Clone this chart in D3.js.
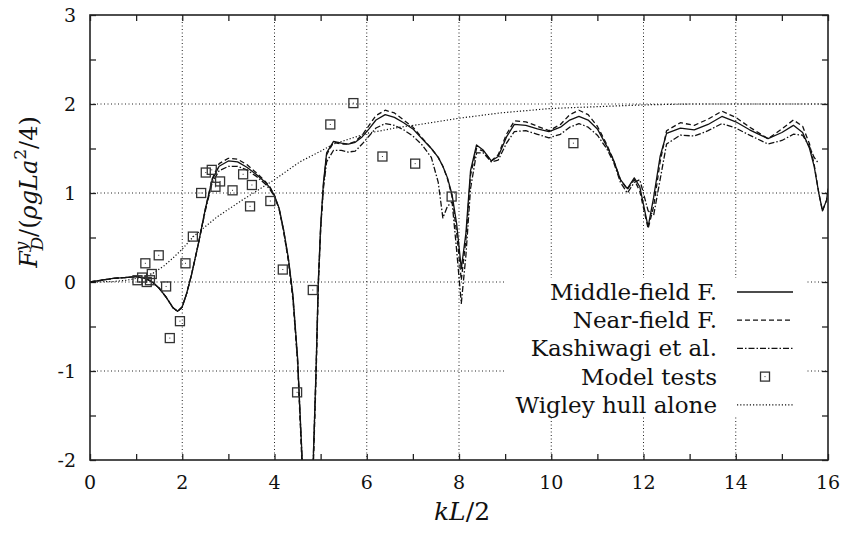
<!DOCTYPE html>
<html lang="en">
<head>
    <meta charset="UTF-8">
    <title>Drift force Fy</title>
    <script src="https://d3js.org/d3.v7.min.js"></script>
    <style>
        body{ margin:0; background:#fff; }
        svg text{ font-family: "DejaVu Serif", "Liberation Serif", serif; fill:#111; }
    </style>
</head>
<body>
<svg width="845" height="533"></svg>
<script>
    // abscissa kL/2 shared by the three computed curves
    const kCurve = [0, 0.25, 0.5, 0.75, 1.0, 1.2, 1.35, 1.5, 1.65, 1.8, 1.9, 2.0, 2.1, 2.2, 2.35, 2.5, 2.65, 2.8, 3.0, 3.2,
        3.4, 3.6, 3.8, 3.9, 4.0, 4.1, 4.2, 4.3, 4.4, 4.5, 4.6, 4.72, 4.84, 4.9, 4.95, 5.0, 5.06, 5.13, 5.28, 5.45, 5.6,
        5.75, 5.9, 6.05, 6.2, 6.4, 6.6, 6.8, 7.0, 7.2, 7.4, 7.55, 7.65, 7.75, 7.85, 7.95, 8.05, 8.15, 8.25, 8.38, 8.53,
        8.7, 8.85, 9.03, 9.2, 9.45, 9.7, 9.95, 10.2, 10.4, 10.6, 10.8, 11.0, 11.2, 11.35, 11.5, 11.65, 11.8, 11.92, 12.1, 12.22,
        12.36, 12.5, 12.8, 13.1, 13.4, 13.7, 14.0, 14.3, 14.7, 15.0, 15.25, 15.45, 15.6, 15.7, 15.8, 15.88, 15.97, 16.0];

    const middleField = [0, 0.02, 0.04, 0.05, 0.06, 0.04, 0.0, -0.07, -0.17, -0.29, -0.33, -0.28, -0.12, 0.08, 0.43, 0.82, 1.15, 1.30, 1.36, 1.35,
        1.29, 1.21, 1.12, 1.06, 0.97, 0.83, 0.58, 0.27, -0.15, -0.85, -2.0, -3.0, -2.0, -1.0, 0.0, 0.62, 1.11, 1.45, 1.58, 1.56, 1.55,
        1.57, 1.63, 1.72, 1.82, 1.88, 1.85, 1.79, 1.72, 1.61, 1.50, 1.40, 1.30, 1.17, 0.98, 0.65, 0.15, 0.55, 1.25, 1.54, 1.48,
        1.36, 1.41, 1.63, 1.77, 1.76, 1.72, 1.69, 1.74, 1.82, 1.86, 1.82, 1.72, 1.53, 1.37, 1.15, 1.05, 1.17, 1.07, 0.62, 0.95,
        1.41, 1.67, 1.73, 1.71, 1.77, 1.86, 1.80, 1.71, 1.61, 1.68, 1.76, 1.68, 1.50, 1.30, 1.00, 0.80, 0.92, 1.05];

    const nearField = [0, 0.02, 0.04, 0.05, 0.06, 0.04, 0.0, -0.07, -0.17, -0.29, -0.33, -0.28, -0.12, 0.08, 0.43, 0.82, 1.16, 1.33, 1.39, 1.38,
        1.32, 1.23, 1.13, 1.07, 0.97, 0.82, 0.56, 0.24, -0.2, -0.9, -2.1, -3.0, -2.1, -1.1, -0.05, 0.58, 1.08, 1.43, 1.57, 1.55, 1.55,
        1.58, 1.65, 1.76, 1.87, 1.93, 1.90, 1.82, 1.74, 1.62, 1.50, 1.40, 1.30, 1.16, 0.96, 0.55, 0.02, 0.48, 1.20, 1.50, 1.47,
        1.36, 1.43, 1.66, 1.81, 1.80, 1.75, 1.70, 1.77, 1.88, 1.93, 1.88, 1.75, 1.55, 1.37, 1.15, 1.04, 1.15, 1.02, 0.60, 0.85,
        1.35, 1.70, 1.79, 1.76, 1.83, 1.92, 1.85, 1.74, 1.61, 1.72, 1.82, 1.75, 1.55, 1.32, 1.00, 0.80, 0.92, 1.05];

    const kashiwagi = [0, 0.02, 0.04, 0.05, 0.06, 0.04, 0.0, -0.07, -0.17, -0.29, -0.33, -0.28, -0.12, 0.08, 0.43, 0.80, 1.12, 1.25, 1.30, 1.30,
        1.26, 1.19, 1.10, 1.04, 0.96, 0.82, 0.57, 0.26, -0.17, -0.87, -2.0, -3.0, -2.0, -1.0, 0.0, 0.60, 1.05, 1.35, 1.48, 1.48, 1.46,
        1.47, 1.55, 1.64, 1.73, 1.78, 1.76, 1.71, 1.64, 1.54, 1.40, 1.12, 0.72, 0.85, 0.90, 0.35, -0.24, 0.30, 1.05, 1.45, 1.45,
        1.35, 1.37, 1.56, 1.69, 1.70, 1.66, 1.62, 1.66, 1.74, 1.78, 1.74, 1.65, 1.50, 1.35, 1.12, 1.00, 1.12, 1.15, 0.80, 0.75,
        1.15, 1.55, 1.65, 1.64, 1.70, 1.78, 1.73, 1.65, 1.55, 1.59, 1.66, 1.65, 1.52, 1.40, 1.33, null, null, null];

    const wigleyK = [0, 0.5, 0.8, 1.0, 1.2, 1.37, 1.6, 1.8, 2.0, 2.24, 2.75, 3.3, 4.0, 4.55, 5.0, 5.28, 6.0, 6.72, 7.15, 8.0,
        8.9, 10.0, 11.0, 12.0, 13.0, 14.0, 15.0, 16.0];
    const wigleyF = [0, 0.005, 0.02, 0.04, 0.07, 0.10, 0.18, 0.27, 0.37, 0.51, 0.73, 0.92, 1.15, 1.35, 1.47, 1.55, 1.67, 1.74, 1.77, 1.84,
        1.90, 1.95, 1.97, 1.99, 2.0, 2.0, 2.0, 2.0];

    const testK = [1.03, 1.13, 1.20, 1.23, 1.30, 1.34, 1.49, 1.65, 1.73, 1.95, 2.07, 2.23, 2.41, 2.51, 2.64, 2.72, 2.82, 3.09, 3.32, 3.47,
        3.51, 3.91, 4.18, 4.49, 4.83, 5.21, 5.71, 6.34, 7.05, 7.84, 10.48];
    const testF = [0.02, 0.05, 0.21, 0.00, 0.02, 0.09, 0.30, -0.05, -0.63, -0.44, 0.21, 0.51, 1.00, 1.23, 1.26, 1.07, 1.13, 1.03, 1.21, 0.85,
        1.09, 0.91, 0.14, -1.24, -0.09, 1.77, 2.01, 1.41, 1.33, 0.96, 1.56];

    const xTicks = [0, 2, 4, 6, 8, 10, 12, 14, 16];
    const yTicks = [-2, -1, 0, 1, 2, 3];
    const legendNames = ["Middle-field F.", "Near-field F.", "Kashiwagi et al.", "Model tests", "Wigley hull alone"];

    const svg = d3.select('svg');
    const pL = 90, pR = 828, pT = 15, pB = 460;

    const x = d3.scaleLinear().domain([0, 16]).range([pL, pR]);
    const y = d3.scaleLinear().domain([-2, 3]).range([pB, pT]);

    svg.append('defs').append('clipPath').attr('id', 'plotclip')
        .append('rect').attr('x', pL).attr('y', pT).attr('width', pR - pL).attr('height', pB - pT);

    // grid
    const grid = svg.append('g').attr('stroke', '#222').attr('stroke-width', 1).attr('stroke-dasharray', '1,2.5');
    grid.selectAll('.gx').data(xTicks.slice(1, -1)).enter().append('line')
        .attr('x1', d => x(d)).attr('x2', d => x(d)).attr('y1', pT).attr('y2', pB);
    grid.selectAll('.gy').data(yTicks.slice(1, -1)).enter().append('line')
        .attr('y1', d => y(d)).attr('y2', d => y(d)).attr('x1', pL).attr('x2', pR);

    // axes: ticks inward on all four sides
    const minorX = d3.range(0, 17, 1), minorY = d3.range(-2, 3.01, 0.5);
    svg.append('g').attr('transform', `translate(0,${pB})`)
        .call(d3.axisBottom(x).tickValues(minorX).tickSizeInner(-6).tickSizeOuter(0).tickFormat(''));
    svg.append('g').attr('transform', `translate(0,${pT})`)
        .call(d3.axisTop(x).tickValues(minorX).tickSizeInner(-6).tickSizeOuter(0).tickFormat(''));
    svg.append('g').attr('transform', `translate(${pL},0)`)
        .call(d3.axisLeft(y).tickValues(minorY).tickSizeInner(-6).tickSizeOuter(0).tickFormat(''));
    svg.append('g').attr('transform', `translate(${pR},0)`)
        .call(d3.axisRight(y).tickValues(minorY).tickSizeInner(-6).tickSizeOuter(0).tickFormat(''));
    svg.selectAll('.domain').remove();
    svg.selectAll('.tick line').attr('stroke', '#222').attr('stroke-width', 1.3);

    svg.append('g').selectAll('text').data(xTicks).enter().append('text')
        .attr('x', d => x(d)).attr('y', pB + 29).attr('text-anchor', 'middle')
        .attr('font-size', 19).text(d => d);
    svg.append('g').selectAll('text').data(yTicks).enter().append('text')
        .attr('x', pL - 14).attr('y', d => y(d) + 7).attr('text-anchor', 'end')
        .attr('font-size', 19).text(d => d);

    // legend background covers grid
    svg.append('rect').attr('x', 505).attr('y', 278).attr('width', 300).attr('height', 139).attr('fill', '#fff');

    const plot = svg.append('g').attr('clip-path', 'url(#plotclip)');
    const line = d3.line().defined(d => d[1] !== null).x(d => x(d[0])).y(d => y(d[1]));

    const styles = [
        {data: middleField, dash: null},
        {data: nearField, dash: '5,3'},
        {data: kashiwagi, dash: '6,2,1.5,2'}
    ];
    styles.forEach(s => {
        plot.append('path')
            .datum(kCurve.map((k, i) => [k, s.data[i]]))
            .attr('d', line).attr('fill', 'none').attr('stroke', '#111')
            .attr('stroke-width', 1.3).attr('stroke-dasharray', s.dash)
            .attr('stroke-linejoin', 'round');
    });
    plot.append('path')
        .datum(wigleyK.map((k, i) => [k, wigleyF[i]]))
        .attr('d', line).attr('fill', 'none').attr('stroke', '#111')
        .attr('stroke-width', 1.2).attr('stroke-dasharray', '1.2,2');

    const sq = plot.selectAll('.sq').data(testK.map((k, i) => [k, testF[i]])).enter().append('g')
        .attr('transform', d => `translate(${x(d[0])},${y(d[1])})`);
    sq.append('rect').attr('x', -4.5).attr('y', -4.5).attr('width', 9).attr('height', 9)
        .attr('fill', 'none').attr('stroke', '#333').attr('stroke-width', 1.3);
    sq.append('rect').attr('x', -0.5).attr('y', -0.5).attr('width', 1).attr('height', 1).attr('fill', '#333');

    // frame
    svg.append('rect').attr('x', pL).attr('y', pT).attr('width', pR - pL).attr('height', pB - pT)
        .attr('fill', 'none').attr('stroke', '#222').attr('stroke-width', 1.6);

    // legend
    const lg = svg.append('g');
    legendNames.forEach((name, i) => {
        const ly = 292 + i * 28.2;
        lg.append('text').attr('x', 717).attr('y', ly + 8).attr('text-anchor', 'end')
            .attr('font-size', 23).text(name);
        if (i === 3) {
            lg.append('rect').attr('x', 760.5).attr('y', ly - 4.5).attr('width', 9).attr('height', 9)
                .attr('fill', 'none').attr('stroke', '#333').attr('stroke-width', 1.3);
            lg.append('rect').attr('x', 764.5).attr('y', ly - 0.5).attr('width', 1).attr('height', 1).attr('fill', '#333');
        } else {
            const dash = i === 0 ? null : i === 1 ? '5,3' : i === 2 ? '6,2,1.5,2' : '1.2,2';
            lg.append('line').attr('x1', 737).attr('x2', 793).attr('y1', ly).attr('y2', ly)
                .attr('stroke', '#111').attr('stroke-width', i === 4 ? 1.2 : 1.3).attr('stroke-dasharray', dash);
        }
    });

    // axis titles
    const xt = svg.append('text').attr('x', 462).attr('y', 520).attr('text-anchor', 'middle').attr('font-size', 25);
    xt.append('tspan').attr('font-style', 'italic').text('kL');
    xt.append('tspan').text('/2');

    const yt = svg.append('text').attr('transform', 'translate(37,192) rotate(-90)')
        .attr('text-anchor', 'middle').attr('font-size', 24);
    yt.append('tspan').attr('font-style', 'italic').text('F');
    yt.append('tspan').attr('font-style', 'italic').attr('font-size', 17).attr('dy', -10).text('y');
    yt.append('tspan').attr('font-style', 'italic').attr('font-size', 17).attr('dx', -9).attr('dy', 16).text('D');
    yt.append('tspan').attr('dy', -6).text('/(');
    yt.append('tspan').attr('font-style', 'italic').text('ρgLa');
    yt.append('tspan').attr('font-size', 17).attr('dy', -11).text('2');
    yt.append('tspan').attr('dy', 11).text('/4)');
</script>
</body>
</html>
